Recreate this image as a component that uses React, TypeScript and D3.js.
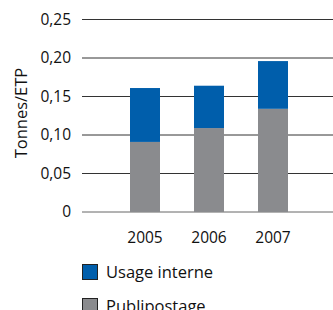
import React from "react";
import * as d3 from "d3";

const years = ["2005", "2006", "2007"];
const publipostage = [0.091, 0.109, 0.134];
const usageInterne = [0.070, 0.055, 0.062];
const yTicks = [0, 0.05, 0.1, 0.15, 0.2, 0.25];
const seriesNames = ["Usage interne", "Publipostage"];
const colors = ["#005EAB", "#8A8B8E"];

const W = 333, H = 310;
const FONT = "'Open Sans', 'DejaVu Sans', sans-serif";

export default function App() {
  const y = d3.scaleLinear().domain([0, 0.25]).range([212, 19.5]);
  const x = d3.scalePoint<string>().domain(years).range([145, 273]);
  const bw = 30;
  const fmt = (v: number) => (v === 0 ? "0" : d3.format(".2f")(v).replace(".", ","));
  const stack = d3.stack<any>().keys(["p", "u"])(
    years.map((yr, i) => ({ yr, p: publipostage[i], u: usageInterne[i] }))
  );
  const fillFor = (k: string) => (k === "p" ? colors[1] : colors[0]);
  return (
    <svg width={W} height={H} style={{ position: "absolute", left: 0, top: 0 }} fontFamily={FONT}>
      <rect width={W} height={H} fill="#fff" />
      {yTicks.map((t) => (
        <g key={t}>
          <line x1={82} x2={333} y1={y(t)} y2={y(t)} stroke={t === 0 ? "#666" : "#333"} strokeWidth={1} />
          <text x={71} y={y(t)} dy="0.35em" textAnchor="end" fontSize={15.5} fill="#111">{fmt(t)}</text>
        </g>
      ))}
      {stack.map((s) =>
        s.map((d, i) => (
          <rect key={s.key + i} x={x(years[i])! - bw / 2} width={bw} y={y(d[1])} height={y(d[0]) - y(d[1])} fill={fillFor(s.key)} />
        ))
      )}
      {years.map((yr) => (
        <text key={yr} x={x(yr)} y={238} dy="0.35em" textAnchor="middle" fontSize={15.5} fill="#111">{yr}</text>
      ))}
      <text transform="translate(21,113) rotate(-90)" textAnchor="middle" dy="0.35em" fontSize={16.5} fill="#111">Tonnes/ETP</text>
      {seriesNames.map((n, i) => (
        <g key={n} transform={`translate(82,${264 + i * 34})`}>
          <rect x={0.5} y={0.5} width={15} height={15} fill={colors[i]} stroke="#222" strokeWidth={1} />
          <text x={24} y={8} dy="0.35em" fontSize={16.5} fill="#111">{n}</text>
        </g>
      ))}
    </svg>
  );
}
